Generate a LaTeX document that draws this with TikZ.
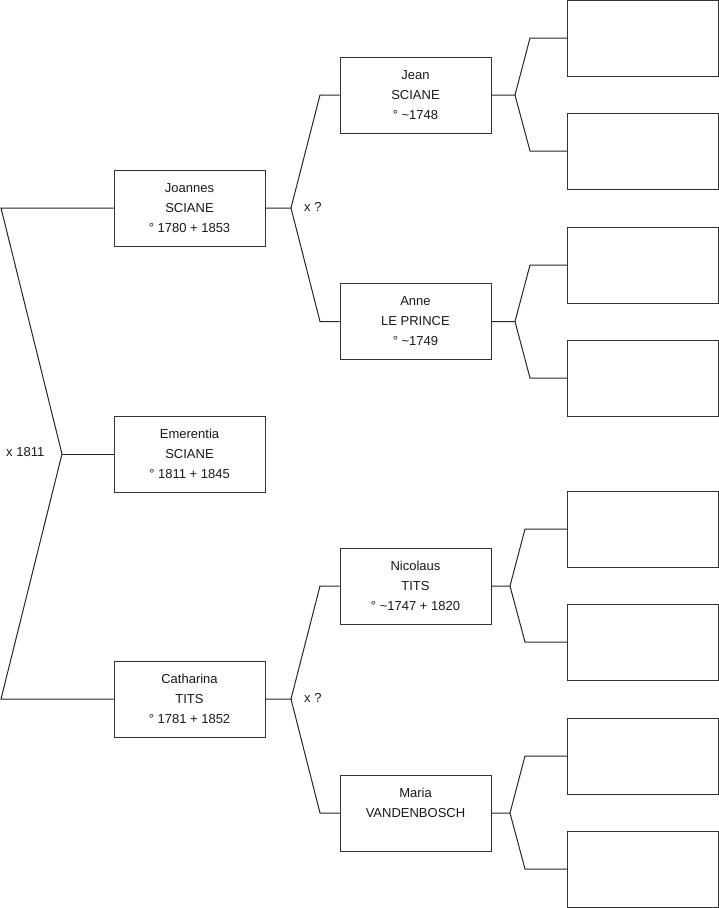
\documentclass[tikz,border=0pt]{standalone}
\usepackage{fontspec}
\setmainfont{Liberation Sans}
\begin{document}
\begin{tikzpicture}[x=1pt,y=-1pt,
  person/.style={draw=black!80, line width=1pt, fill=white, rectangle,
    minimum width=151pt, minimum height=76pt, inner sep=0pt,
    align=center, font=\fontsize{13}{20}\selectfont, text=black!90},
  link/.style={draw=black!85, line width=1pt},
  lbl/.style={anchor=west, inner sep=0pt, font=\fontsize{13}{15}\selectfont, text=black!90}]
\useasboundingbox (0,0) rectangle (719,908);
% generation 1
\node[person] (joannes) at (189.5,208) {Joannes\\SCIANE\\° 1780 + 1853};
\node[person] (emerentia) at (189.5,454) {Emerentia\\SCIANE\\° 1811 + 1845};
\node[person] (catharina) at (189.5,699) {Catharina\\TITS\\° 1781 + 1852};
% generation 2
\node[person] (jean) at (415.5,95) {Jean\\SCIANE\\° \textasciitilde1748};
\node[person] (anne) at (415.5,321.5) {Anne\\LE PRINCE\\° \textasciitilde1749};
\node[person] (nicolaus) at (415.5,586) {Nicolaus\\TITS\\° \textasciitilde1747 + 1820};
\node[person] (maria) at (415.5,813) {Maria\\VANDENBOSCH\\\rule{0pt}{9pt}};
% generation 3
\node[person] (g1) at (643,38) {};
\node[person] (g2) at (643,151) {};
\node[person] (g3) at (643,265) {};
\node[person] (g4) at (643,378) {};
\node[person] (g5) at (643,529) {};
\node[person] (g6) at (643,642) {};
\node[person] (g7) at (643,756) {};
\node[person] (g8) at (643,869) {};
% left fork
\coordinate (ltop) at (1,208);
\coordinate (lmid) at (62,454);
\coordinate (lbot) at (1,699);
\draw[link] (joannes.west) -- (ltop) -- (lmid) -- (lbot) -- (catharina.west);
\draw[link] (emerentia.west) -- (lmid);
\node[lbl] (m0) at (6,452) {x 1811};
% Joannes fork
\coordinate (jv) at (291,208);
\coordinate (ju) at (320,95);
\coordinate (jd) at (320,321.5);
\draw[link] (joannes.east) -- (jv) -- (ju) -- (jean.west);
\draw[link] (jv) -- (jd) -- (anne.west);
\node[lbl] (m1) at (304,207) {x ?};
% Catharina fork
\coordinate (cv) at (291,699);
\coordinate (cu) at (320,586);
\coordinate (cd) at (320,813);
\draw[link] (catharina.east) -- (cv) -- (cu) -- (nicolaus.west);
\draw[link] (cv) -- (cd) -- (maria.west);
\node[lbl] (m2) at (304,698) {x ?};
% Jean fork
\coordinate (av) at (515,95);
\coordinate (au) at (530,38);
\coordinate (ad) at (530,151);
\draw[link] (jean.east) -- (av) -- (au) -- (g1.west);
\draw[link] (av) -- (ad) -- (g2.west);
% Anne fork
\coordinate (bv) at (515,321.5);
\coordinate (bu) at (530,265);
\coordinate (bd) at (530,378);
\draw[link] (anne.east) -- (bv) -- (bu) -- (g3.west);
\draw[link] (bv) -- (bd) -- (g4.west);
% Nicolaus fork
\coordinate (nv) at (510,586);
\coordinate (nu) at (525,529);
\coordinate (nd) at (525,642);
\draw[link] (nicolaus.east) -- (nv) -- (nu) -- (g5.west);
\draw[link] (nv) -- (nd) -- (g6.west);
% Maria fork
\coordinate (mv) at (510,813);
\coordinate (mu) at (525,756);
\coordinate (md) at (525,869);
\draw[link] (maria.east) -- (mv) -- (mu) -- (g7.west);
\draw[link] (mv) -- (md) -- (g8.west);
\end{tikzpicture}
\end{document}
